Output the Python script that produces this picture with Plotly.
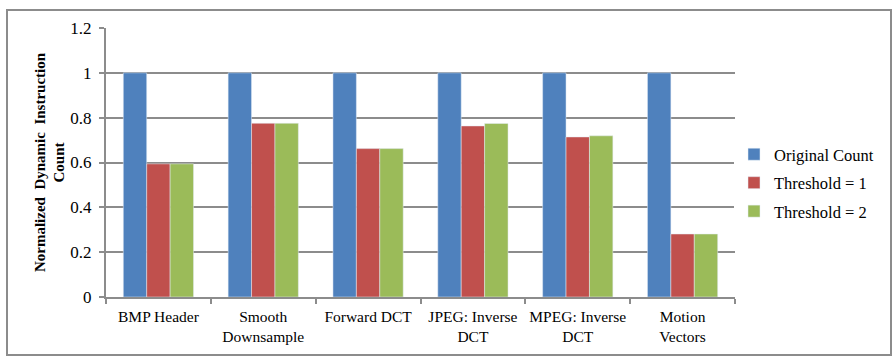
import plotly.graph_objects as go

categories = ["BMP Header", "Smooth<br>Downsample", "Forward DCT",
              "JPEG: Inverse<br>DCT", "MPEG: Inverse<br>DCT", "Motion<br>Vectors"]
original_count = [1.0, 1.0, 1.0, 1.0, 1.0, 1.0]
threshold_1 = [0.594, 0.775, 0.662, 0.763, 0.714, 0.281]
threshold_2 = [0.594, 0.775, 0.662, 0.774, 0.719, 0.281]
y_ticks = [0, 0.2, 0.4, 0.6, 0.8, 1, 1.2]
y_tick_text = ["0", "0.2", "0.4", "0.6", "0.8", "1", "1.2"]

font_family = "Liberation Serif"
grid_color = "#8c8c8c"

fig = go.Figure()
fig.add_bar(x=categories, y=original_count, name="Original Count",
            marker_color="#4F81BD", legendgroup="orig")
fig.add_bar(x=categories, y=threshold_1, name="Threshold = 1",
            marker_color="#C0504D", legendgroup="t1")
fig.add_bar(x=categories, y=threshold_2, name="Threshold = 2",
            marker_color="#9BBB59", legendgroup="t2")

ml, mr, mt, mb = 106, 158, 28, 61
W, H = 893, 358
pw, ph = W - ml - mr, H - mt - mb

fig.update_layout(
    width=W, height=H,
    margin=dict(l=ml, r=mr, t=mt, b=mb, autoexpand=False),
    paper_bgcolor="white", plot_bgcolor="white",
    barmode="group", bargap=0.33, bargroupgap=0,
    font=dict(family=font_family, size=16, color="black"),
    legend=dict(x=(734 - ml) / pw, y=(297 - 183) / ph, xanchor="left", yanchor="middle",
                font=dict(size=16.5), itemwidth=30, tracegroupgap=4),
    xaxis=dict(type="category", showline=True, linecolor=grid_color, linewidth=2,
               ticks="outside", tickson="boundaries", ticklen=5, tickcolor=grid_color,
               tickwidth=2, tickfont=dict(size=15.5), showgrid=False, tickangle=0,
               automargin=False, ticklabelstandoff=4),
    yaxis=dict(range=[0, 1.2], tickvals=y_ticks, ticktext=y_tick_text,
               showline=True, linecolor=grid_color, linewidth=2,
               ticks="outside", ticklen=5, tickcolor=grid_color, tickwidth=2,
               showgrid=True, gridcolor=grid_color, gridwidth=2,
               tickfont=dict(size=17), zeroline=False, automargin=False,
               ticklabelstandoff=4,
               title=dict(text="<b>Normalized  Dynamic  Instruction<br>Count</b>",
                          font=dict(size=15), standoff=2)),
    shapes=[dict(type="rect", xref="paper", yref="paper",
                 x0=(7 - ml) / pw, x1=(891 - ml) / pw,
                 y0=(297 - 355) / ph, y1=(297 - 10) / ph,
                 line=dict(color="#8c8c8c", width=2), layer="below")],
)

fig.write_html("out.html")
